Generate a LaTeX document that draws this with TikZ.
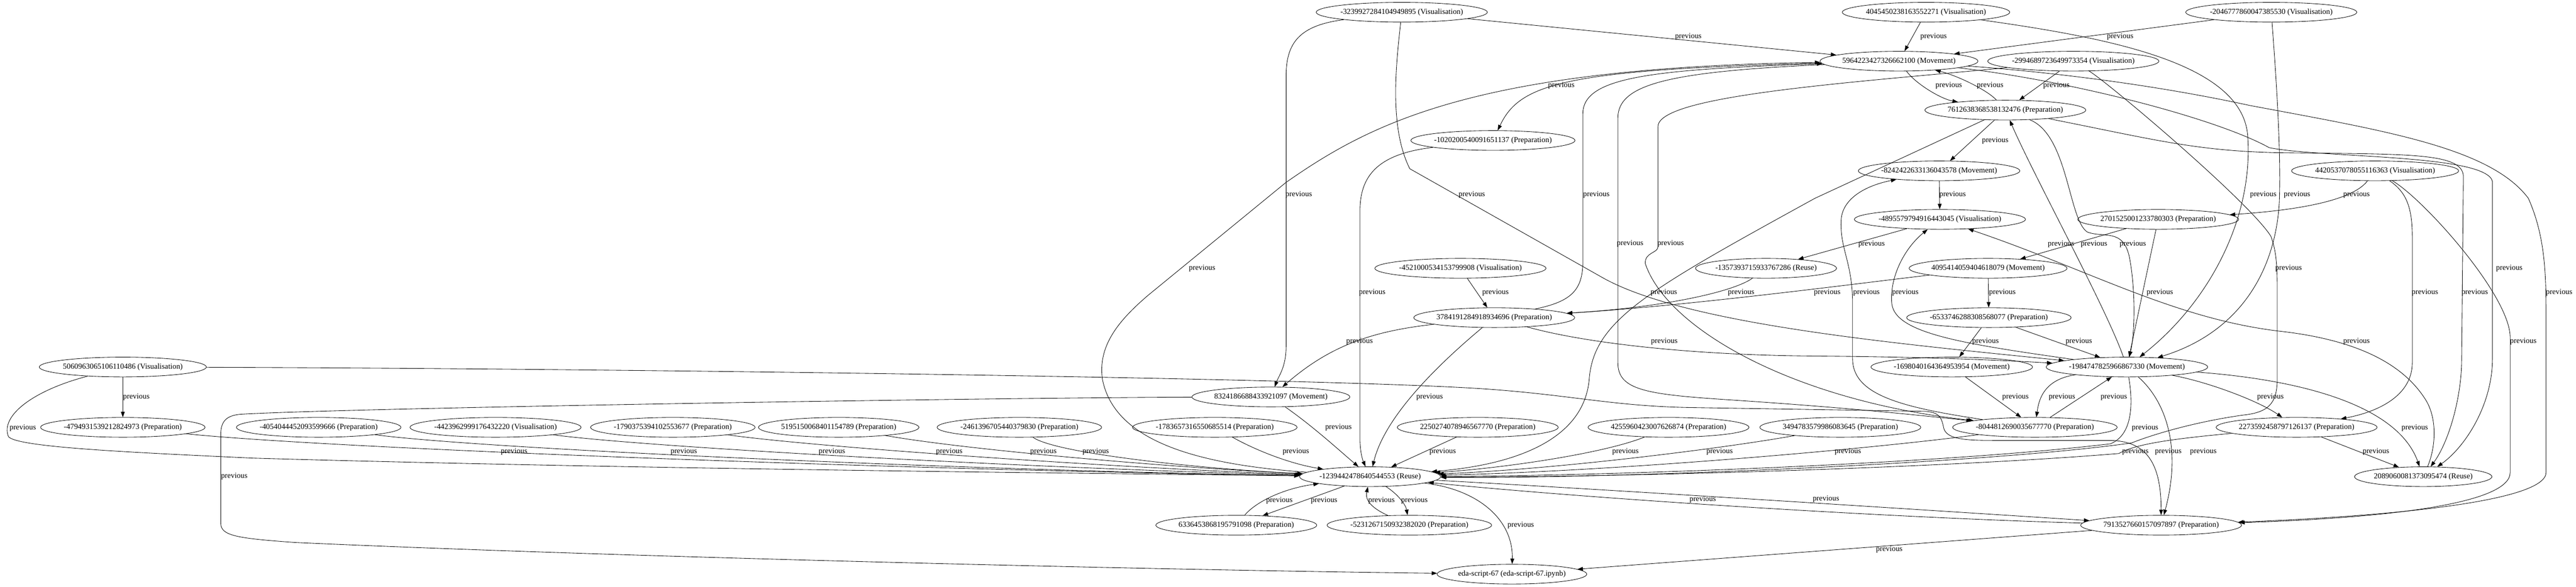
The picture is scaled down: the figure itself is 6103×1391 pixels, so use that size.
\documentclass[tikz,border=0pt]{standalone}
\usepackage{fontspec}
\setmainfont{Liberation Serif}
\usetikzlibrary{arrows.meta, shapes.geometric}

\begin{document}
\begin{tikzpicture}[x=0.7692pt, y=-0.7692pt, >={Triangle[length=10pt,width=7pt]},
  job/.style={draw, ellipse, line width=0.8pt, minimum height=36pt, inner xsep=-1.5pt, inner ysep=2pt, font=\fontsize{14}{16}\selectfont},
  link/.style={->, line width=0.8pt},
  lbl/.style={font=\fontsize{14}{16}\selectfont, inner sep=0pt}]
\useasboundingbox (0,0) rectangle (6103,1391);

% nodes
\node[job] at (3321,29) (A1) {-3239927284104949895 (Visualisation)};
\node[job] at (4563,29) (A2) {4045450238163552271 (Visualisation)};
\node[job] at (5381,29) (A3) {-2046777860047385530 (Visualisation)};
\node[job] at (4499,145) (M1) {5964223427326662100 (Movement)};
\node[job] at (4912,145) (V2) {-2994689723649973354 (Visualisation)};
\node[job] at (4751,261) (P2) {7612638368538132476 (Preparation)};
\node[job] at (3537,333) (P1) {-1020200540091651137 (Preparation)};
\node[job] at (4594,405) (M2) {-8242422633136043578 (Movement)};
\node[job] at (5627,405) (V3) {4420537078055116363 (Visualisation)};
\node[job] at (4596,520) (V4) {-4895579794916443045 (Visualisation)};
\node[job] at (5113,520) (P3) {2701525001233780303 (Preparation)};
\node[job] at (3460,636) (V5) {-4521000534153799908 (Visualisation)};
\node[job] at (4184,636) (R1) {-1357393715933767286 (Reuse)};
\node[job] at (4710,636) (M3) {4095414059404618079 (Movement)};
\node[job] at (3540,753) (P4) {3784191284918934696 (Preparation)};
\node[job] at (4712,753) (P5) {-6533746288308568077 (Preparation)};
\node[job] at (291,870) (V6) {5060963065106110486 (Visualisation)};
\node[job] at (4624,870) (M4) {-1698040164364953954 (Movement)};
\node[job] at (5039,870) (M5) {-1984747825966867330 (Movement)};
\node[job] at (3011,941) (M6) {8324186688433921097 (Movement)};
\node[job] at (291,1013) (P6) {-4794931539212824973 (Preparation)};
\node[job] at (755,1013) (P7) {-4054044452093599666 (Preparation)};
\node[job] at (1174,1013) (V7) {-4423962999176432220 (Visualisation)};
\node[job] at (1594,1013) (P8) {-1790375394102553677 (Preparation)};
\node[job] at (1987,1013) (P9) {5195150068401154789 (Preparation)};
\node[job] at (2415,1013) (P10) {-2461396705440379830 (Preparation)};
\node[job] at (2878,1013) (P11) {-1783657316550685514 (Preparation)};
\node[job] at (3501,1013) (P12) {2250274078946567770 (Preparation)};
\node[job] at (3953,1013) (P13) {4255960423007626874 (Preparation)};
\node[job] at (4360,1013) (P14) {3494783579986083645 (Preparation)};
\node[job] at (4821,1013) (P15) {-8044812690035677770 (Preparation)};
\node[job] at (5441,1013) (P16) {2273592458797126137 (Preparation)};
\node[job] at (3246,1130) (R2) {-1239442478640544553 (Reuse)};
\node[job] at (5741,1130) (R3) {2089060081373095474 (Reuse)};
\node[job] at (2929,1245) (P17) {6336453868195791098 (Preparation)};
\node[job] at (3339,1245) (P18) {-5231267150932382020 (Preparation)};
\node[job] at (5120,1245) (P19) {7913527660157097897 (Preparation)};
\node[job] at (3582,1361) (E) {eda-script-67 (eda-script-67.ipynb)};

% top part
\draw [link] (A1) -- (M1) node[lbl] (l1) at (4000,87) {previous};
\draw [link] (A2) -- (M1) node[lbl] (l2) at (4581,87) {previous};
\draw [link] (A3) -- (M1) node[lbl] (l3) at (5023,87) {previous};
\draw [link] (M1) .. controls (3700,165) and (3600,200) .. (P1) node[lbl] (l4) at (3699,203) {previous};
\draw [link] (M1) .. controls (4540,200) and (4600,235) .. (P2) node[lbl] (l5) at (4617,203) {previous};
\draw [link] (P2) .. controls (4710,215) and (4640,180) .. (M1) node[lbl] (l6) at (4715,203) {previous};
\draw [link] (V2) -- (P2) node[lbl] (l7) at (4872,203) {previous};
\draw [link] (P2) -- (M2) node[lbl] (l8) at (4727,333) {previous};
\draw [link] (M2) -- (V4) node[lbl] (l9) at (4626,462) {previous};
\draw [link] (V3) .. controls (5570,480) and (5420,500) .. (P3) node[lbl] (l10) at (5583,462) {previous};
\draw [link] (A1) .. controls (3080,60) and (3047,100) .. (3047,180) -- (3047,820) .. controls (3047,870) and (3030,890) .. (M6) node[lbl] (l11) at (3077,462) {previous};
\draw [link] (A1) .. controls (3308,150) and (3290,300) .. (3340,400) -- (3800,660) .. controls (4000,770) and (4500,815) .. (M5) node[lbl] (l12) at (3487,462) {previous};
\draw [link] (A2) .. controls (5000,90) and (5310,150) .. (5325,320) .. controls (5340,520) and (5230,720) .. (M5) node[lbl] (l13) at (5362,462) {previous};
\draw [link] (A3) .. controls (5390,150) and (5405,350) .. (5400,480) .. controls (5390,650) and (5300,790) .. (M5) node[lbl] (l14) at (5442,462) {previous};
\draw [link] (P4) .. controls (3720,715) and (3750,690) .. (3750,620) -- (3750,270) .. controls (3750,185) and (3900,165) .. (M1) node[lbl] (l15) at (3782,462) {previous};
\draw [link] (R2) .. controls (2820,1100) and (2640,1040) .. (2612,900) .. controls (2600,820) and (2650,760) .. (2720,700) -- (3046,433) .. controls (3250,290) and (3500,160) .. (M1) node[lbl] (l16) at (2848,636) {previous};
\draw [link] (P1) .. controls (3260,365) and (3222,420) .. (3222,500) -- (3222,1040) .. controls (3222,1070) and (3228,1090) .. (R2) node[lbl] (l17) at (3251,694) {previous};

% middle part
\draw [link] (V5) -- (P4) node[lbl] (l18) at (3543,694) {previous};
\draw [link] (R1) .. controls (4110,690) and (3950,728) .. (P4) node[lbl] (l19) at (4125,694) {previous};
\draw [link] (M3) .. controls (4400,672) and (4000,725) .. (P4) node[lbl] (l20) at (4329,694) {previous};
\draw [link] (P2) -- (4300,470) .. controls (3900,690) and (3775,760) .. (3765,900) .. controls (3750,1060) and (3550,1105) .. (R2) node[lbl] (l21) at (3942,694) {previous};
\draw [link] (P4) .. controls (3250,785) and (3150,820) .. (M6) node[lbl] (l22) at (3221,810) {previous};
\draw [link] (P4) .. controls (3750,812) and (4000,842) .. (4300,844) .. controls (4550,846) and (4700,852) .. (M5) node[lbl] (l23) at (3943,810) {previous};
\draw [link] (P4) .. controls (3400,870) and (3280,990) .. (R2) node[lbl] (l24) at (3387,941) {previous};
\draw [link] (M6) .. controls (3110,1010) and (3170,1065) .. (R2) node[lbl] (l25) at (3171,1013) {previous};
\draw [link] (P11) .. controls (2980,1070) and (3060,1100) .. (R2) node[lbl] (l26) at (3070,1071) {previous};
\draw [link] (P12) -- (R2) node[lbl] (l27) at (3418,1071) {previous};
\draw [link] (P13) .. controls (3800,1075) and (3560,1110) .. (R2) node[lbl] (l28) at (3851,1071) {previous};
\draw [link] (P14) .. controls (4100,1060) and (3700,1112) .. (R2) node[lbl] (l29) at (4074,1071) {previous};
\draw [link] (P15) .. controls (4400,1068) and (3800,1118) .. (R2) node[lbl] (l30) at (4378,1071) {previous};
\draw [link] (P17) .. controls (2975,1190) and (3040,1158) .. (R2) node[lbl] (l31) at (3031,1186) {previous};
\draw [link] (R2) -- (P17) node[lbl] (l32) at (3137,1186) {previous};
\draw [link] (P18) .. controls (3240,1200) and (3235,1180) .. (R2) node[lbl] (l33) at (3273,1186) {previous};
\draw [link] (R2) .. controls (3310,1170) and (3330,1195) .. (P18) node[lbl] (l34) at (3351,1186) {previous};
\draw [link] (R2) .. controls (3500,1160) and (3585,1230) .. (E) node[lbl] (l35) at (3603,1245) {previous};
\draw [link] (R2) .. controls (3800,1160) and (4500,1205) .. (P19) node[lbl] (l36) at (4034,1184) {previous};
\draw [link] (P19) .. controls (4500,1228) and (3800,1185) .. (R2) node[lbl] (l37) at (4326,1183) {previous};
\draw [link] (P19) -- (E) node[lbl] (l38) at (4476,1303) {previous};

% left part
\draw [link] (M6) .. controls (2300,943) and (800,968) .. (570,982) .. controls (535,985) and (523,1000) .. (523,1030) -- (523,1240) .. controls (523,1270) and (560,1276) .. (700,1286) .. controls (1500,1322) and (2800,1352) .. (E) node[lbl] (l39) at (555,1129) {previous};
\draw [link] (V6) -- (P6) node[lbl] (l40) at (323,941) {previous};
\draw [link] (V6) .. controls (80,925) and (0,985) .. (20,1035) .. controls (40,1060) and (300,1072) .. (600,1086) .. controls (1500,1112) and (2600,1122) .. (R2) node[lbl] (l41) at (54,1014) {previous};
\draw [link] (V6) .. controls (1500,874) and (3000,895) .. (3450,918) .. controls (3700,930) and (3800,962) .. (4000,966) -- (4560,975) .. controls (4595,977) and (4600,990) .. (4605,1015) .. controls (4612,1040) and (4650,1044) .. (4720,1044) -- (5000,1044) .. controls (5080,1046) and (5120,1090) .. (P19) node[lbl] (l42) at (5137,1071) {previous};
\draw [link] (P6) .. controls (800,1065) and (2200,1115) .. (R2) node[lbl] (l43) at (1218,1071) {previous};
\draw [link] (P7) .. controls (1150,1065) and (2300,1115) .. (R2) node[lbl] (l44) at (1620,1071) {previous};
\draw [link] (V7) .. controls (1550,1062) and (2500,1112) .. (R2) node[lbl] (l45) at (1971,1071) {previous};
\draw [link] (P8) .. controls (1950,1062) and (2700,1112) .. (R2) node[lbl] (l46) at (2249,1071) {previous};
\draw [link] (P9) .. controls (2300,1068) and (2800,1110) .. (R2) node[lbl] (l47) at (2472,1071) {previous};
\draw [link] (P10) .. controls (2500,1075) and (2850,1112) .. (R2) node[lbl] (l48) at (2596,1071) {previous};

% centre right
\draw [link] (P15) .. controls (4500,965) and (4389,935) .. (4389,850) -- (4389,720) .. controls (4389,620) and (4358,590) .. (4362,520) .. controls (4366,470) and (4420,440) .. (M2) node[lbl] (l49) at (4422,694) {previous};
\draw [link] (M5) .. controls (4650,815) and (4490,790) .. (4482,720) .. controls (4476,660) and (4510,590) .. (V4) node[lbl] (l50) at (4514,694) {previous};
\draw [link] (V4) -- (R1) node[lbl] (l51) at (4434,579) {previous};
\draw [link] (P3) -- (M3) node[lbl] (l52) at (4883,579) {previous};
\draw [link] (M5) .. controls (4990,730) and (4820,420) .. (P2) node[lbl] (l53) at (4961,579) {previous};
\draw [link] (P2) .. controls (4900,320) and (4900,520) .. (4945,550) .. controls (4985,565) and (5030,540) .. (5045,610) .. controls (5060,690) and (5058,790) .. (M5) node[lbl] (l54) at (5053,579) {previous};
\draw [link] (P3) -- (M5) node[lbl] (l55) at (5117,694) {previous};
\draw [link] (M3) -- (P5) node[lbl] (l56) at (4744,694) {previous};
\draw [link] (P5) -- (M4) node[lbl] (l57) at (4704,810) {previous};
\draw [link] (P5) -- (M5) node[lbl] (l58) at (4925,810) {previous};
\draw [link] (M4) -- (P15) node[lbl] (l59) at (4775,941) {previous};
\draw [link] (M5) .. controls (4840,900) and (4830,950) .. (P15) node[lbl] (l60) at (4885,941) {previous};
\draw [link] (P15) -- (M5) node[lbl] (l61) at (5008,941) {previous};
\draw [link] (M5) .. controls (5230,905) and (5350,950) .. (P16) node[lbl] (l62) at (5379,941) {previous};
\draw [link] (M5) .. controls (5450,900) and (5680,960) .. (R3) node[lbl] (l63) at (5721,1014) {previous};
\draw [link] (M5) .. controls (5130,950) and (5170,1060) .. (P19) node[lbl] (l64) at (5220,1071) {previous};
\draw [link] (M5) .. controls (5053,950) and (5055,1030) .. (5000,1052) .. controls (4600,1100) and (3800,1128) .. (R2) node[lbl] (l65) at (5082,1014) {previous};
\draw [link] (P16) .. controls (5150,1040) and (5060,1052) .. (5020,1075) .. controls (4600,1110) and (3800,1132) .. (R2) node[lbl] (l66) at (5059,1071) {previous};
\draw [link] (P16) -- (R3) node[lbl] (l67) at (5629,1071) {previous};
\draw [link] (V2) .. controls (5000,200) and (5330,480) .. (5380,560) .. controls (5395,600) and (5395,640) .. (5395,700) -- (5395,900) .. controls (5395,960) and (5370,978) .. (5314,984) .. controls (5200,1000) and (5100,1030) .. (5050,1050) .. controls (4700,1100) and (3800,1135) .. (R2) node[lbl] (l68) at (5422,636) {previous};
\draw [link] (V2) .. controls (4400,195) and (3928,225) .. (3928,300) -- (3928,585) .. controls (3928,600) and (3896,598) .. (3898,625) .. controls (3950,780) and (4250,950) .. (P15) node[lbl] (l69) at (3958,578) {previous};
\draw [link] (M1) .. controls (3950,170) and (3833,200) .. (3833,280) -- (3833,860) .. controls (3833,925) and (3900,935) .. (4100,948) .. controls (4400,968) and (4550,985) .. (P15) node[lbl] (l70) at (3862,578) {previous};

% right part
\draw [link] (P2) .. controls (5100,330) and (5200,358) .. (5400,362) .. controls (5700,366) and (5838,360) .. (5836,420) -- (5832,860) .. controls (5830,950) and (5800,1050) .. (R3) node[lbl] (l71) at (5863,694) {previous};
\draw [link] (M1) .. controls (4900,190) and (5250,280) .. (5376,350) .. controls (5500,375) and (5890,365) .. (5905,430) -- (5905,850) .. controls (5905,960) and (5840,1060) .. (R3) node[lbl] (l72) at (5945,636) {previous};
\draw [link] (M1) .. controls (4850,170) and (5100,200) .. (5330,250) .. controls (5650,310) and (5900,350) .. (5990,470) .. controls (6030,560) and (6032,650) .. (6032,750) -- (6032,1120) .. controls (6032,1185) and (5700,1222) .. (P19) node[lbl] (l73) at (6063,694) {previous};
\draw [link] (V3) .. controls (5700,455) and (5715,490) .. (5715,560) -- (5715,860) .. controls (5715,935) and (5640,975) .. (P16) node[lbl] (l74) at (5745,694) {previous};
\draw [link] (V3) .. controls (5740,470) and (5947,700) .. (5947,800) -- (5947,1120) .. controls (5947,1195) and (5650,1228) .. (P19) node[lbl] (l75) at (5978,810) {previous};
\draw [link] (R3) .. controls (5771,1060) and (5775,990) .. (5745,945) .. controls (5690,860) and (5580,805) .. (5400,785) .. controls (5150,755) and (4950,640) .. (V4) node[lbl] (l76) at (5583,810) {previous};
\end{tikzpicture}
\end{document}
